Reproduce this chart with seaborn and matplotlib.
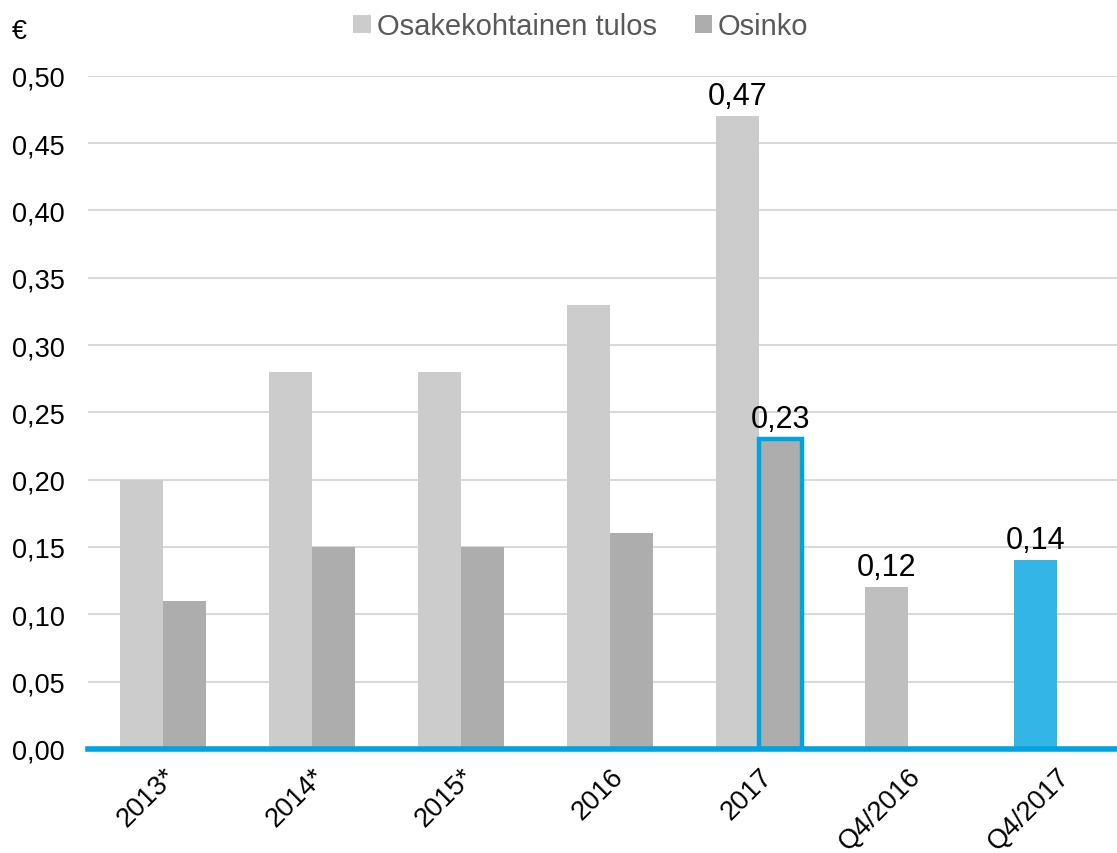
import matplotlib
matplotlib.use("Agg")
import matplotlib.pyplot as plt
import seaborn as sns
import pandas as pd
import numpy as np
from matplotlib.ticker import FuncFormatter

categories = ["2013*", "2014*", "2015*", "2016", "2017", "Q4/2016", "Q4/2017"]
eps = [0.20, 0.28, 0.28, 0.33, 0.47, 0.12, 0.14]
dividend = [0.11, 0.15, 0.15, 0.16, 0.23, np.nan, np.nan]
series_names = ["Osakekohtainen tulos", "Osinko"]
labelled = {("Osakekohtainen tulos", "2017"), ("Osinko", "2017"),
            ("Osakekohtainen tulos", "Q4/2016"), ("Osakekohtainen tulos", "Q4/2017")}

df = pd.DataFrame({
    "cat": categories * 2,
    "val": eps + dividend,
    "series": [series_names[0]] * len(categories) + [series_names[1]] * len(categories),
})

sns.set_theme(style="white")
plt.rcParams["font.family"] = ["Liberation Sans", "DejaVu Sans"]

fig = plt.figure(figsize=(11.17, 8.54), dpi=100)
ax = fig.add_axes([0.079, 0.122, 0.934, 0.788])

light = "#CCCCCC"
dark = "#ADADAD"
blue = "#00A3E0"
sns.barplot(data=df, x="cat", y="val", hue="series", order=categories,
            hue_order=series_names, palette=[light, dark], width=0.577,
            saturation=1, linewidth=0, ax=ax, legend=True)

# Recolour specific bars
c0 = ax.containers[0]
c1 = ax.containers[1]
c0[5].set_facecolor("#BFBFBF")
c0[6].set_facecolor("#33B5E8")
c1[4].set_edgecolor(blue)
c1[4].set_linewidth(3.2)

# Data labels
fmt = lambda v: f"{v:.2f}".replace(".", ",")
for cont, name in zip(ax.containers, series_names):
    labels = []
    for bar, cat in zip(cont, categories):
        h = bar.get_height()
        if (name, cat) in labelled and not np.isnan(h):
            labels.append(fmt(h))
        else:
            labels.append("")
    ax.bar_label(cont, labels=labels, padding=4, fontsize=22, color="black")

ax.set_ylim(0, 0.5)
ax.set_yticks(np.arange(0, 0.501, 0.05))
ax.yaxis.set_major_formatter(FuncFormatter(lambda v, p: f"{v:.2f}".replace(".", ",")))
ax.set_xlim(-0.5, 6.5)
ax.yaxis.grid(True, color="#D9D9D9", linewidth=1.5)
ax.set_axisbelow(True)
for s in ["top", "right", "left"]:
    ax.spines[s].set_visible(False)
ax.spines["bottom"].set_color(blue)
ax.spines["bottom"].set_linewidth(4)
ax.spines["bottom"].set_zorder(5)
ax.tick_params(axis="both", length=0, labelsize=19.5, colors="black")
ax.tick_params(axis="y", pad=17)
ax.tick_params(axis="x", pad=10)
plt.setp(ax.get_xticklabels(), rotation=45, ha="right", rotation_mode="anchor")
ax.set_xlabel("")
ax.set_ylabel("")

fig.text(0.011, 0.962, "€", fontsize=19.5, color="black", va="center")

leg = ax.legend(loc="upper center", bbox_to_anchor=(0.52, 1.005), bbox_transform=fig.transFigure,
                ncol=2, frameon=False, fontsize=21, handlelength=0.6, handleheight=0.6,
                handletextpad=0.2, columnspacing=1.3, borderaxespad=0.2)
for t in leg.get_texts():
    t.set_color("#595959")

fig.savefig("out.png", dpi=100)
